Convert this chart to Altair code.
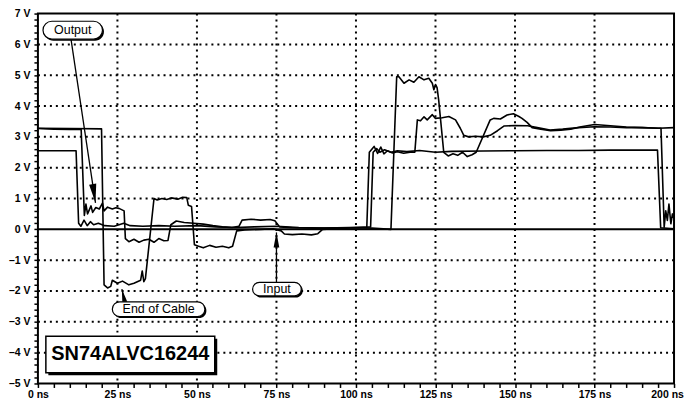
import altair as alt
import pandas as pd

# ---- traces (time in ns, voltage in V) ----
OUT_T = [0, 5, 10, 13.6, 14.6, 15.1, 15.6, 16.7, 17.2, 18.2, 19.3, 20.3, 20.8, 21.9, 23.4, 24.5, 25.5, 27.1,
         27.5, 28.6, 30.2, 31.8, 33.3, 34.9, 36.5, 38.0, 39.6, 40.9, 41.8, 43.5, 46, 49, 52, 55, 58, 61, 63.2,
         64.2, 67, 70, 73, 74.5, 76, 80, 88, 96, 103.4, 104.2, 105.7, 106.8, 107.8, 108.8, 109.9, 111.5, 113,
         115, 117, 118.5, 119.3, 120.3, 121.4, 122.4, 124.0, 125.0, 127.1, 129.2, 131.3, 132.8, 133.9, 135.4,
         137.5, 140, 142.2, 144.5, 146.5, 150, 154, 157, 161, 165, 170, 175, 180, 185, 190, 195.9, 196.9,
         197.4, 197.9, 198.4, 199.0, 199.5, 200]
OUT_V = [3.27, 3.25, 3.24, 3.24, 0.45, 0.82, 0.5, 0.76, 0.55, 0.71, 0.66, 0.85, 0.6, 0.72, 0.66, 0.7, 0.68, 0.6,
         -0.3, -0.4, -0.32, -0.42, -0.35, -0.32, -0.42, -0.3, -0.37, -0.36, 0.15, 0.27, 0.22, 0.2, 0.17, 0.12,
         0.08, 0.06, 0.1, 0.3, 0.33, 0.3, 0.32, 0.28, 0.08, 0.05, 0.04, 0.05, 0.06, 2.5, 2.69, 2.46, 2.67, 2.45,
         2.55, 2.48, 2.52, 2.47, 2.5, 2.5, 3.55, 3.52, 3.65, 3.55, 3.72, 3.6, 3.62, 3.66, 3.55, 3.28, 3.05, 3.0,
         3.02, 3.0, 3.05, 3.2, 3.35, 3.37, 3.36, 3.3, 3.22, 3.25, 3.3, 3.33, 3.32, 3.3, 3.3, 3.28, 0.07, 0.6,
         0.29, 0.82, 0.18, 0.5, 0.35]

END_T = [0, 10, 20.0, 20.8, 21.9, 22.9, 23.4, 25.0, 26.6, 28.6, 30.2, 32.3, 32.8, 33.3, 33.8, 36.5, 37.5, 39,
         40.5, 42, 44, 45.5, 46.8, 47.3, 48.3, 49.2, 50.5, 52, 54, 56, 58, 60, 61.2, 62.5, 65, 70, 74, 76.5,
         77.5, 80, 83, 86, 88, 89.5, 95, 100, 105, 111.0, 112.8, 113.5, 115.1, 116.7, 118.2, 119.8, 121.4,
         122.9, 124.0, 124.5, 125.0, 125.5, 126.0, 127.6, 129, 130.5, 132, 133.5, 135, 136.5, 137.8, 142.2,
         143.3, 145.4, 147.5, 149.5, 151.1, 152.2, 153.8, 155.4, 158.1, 161.2, 164.4, 167.5, 170.8, 175, 180,
         185, 190, 195, 200]
END_V = [3.28, 3.27, 3.26, -1.8, -1.9, -1.85, -1.65, -1.75, -1.68, -1.8, -1.75, -1.65, -1.35, -1.7, -1.6, 1.0,
         0.95, 1.0, 0.97, 1.02, 0.98, 1.04, 1.03, 0.78, 0.74, -0.5, -0.55, -0.6, -0.52, -0.58, -0.55, -0.6,
         -0.55, -0.05, -0.02, 0.0, 0.02, -0.05, -0.15, -0.17, -0.15, -0.18, -0.14, 0.0, 0.03, 0.05, 0.04, 0.0,
         4.95, 4.95, 4.74, 4.85, 4.77, 4.95, 4.85, 4.9, 4.74, 4.53, 4.7, 4.6, 4.2, 2.5, 2.38, 2.45, 2.4, 2.5,
         2.36, 2.42, 2.5, 3.55, 3.6, 3.58, 3.71, 3.75, 3.67, 3.6, 3.47, 3.3, 3.25, 3.2, 3.22, 3.25, 3.33, 3.4,
         3.36, 3.32, 3.3, 3.28, 3.3]

IN_T = [0, 12.0, 12.8, 13.5, 14.5, 15.5, 16.5, 17.5, 19, 21, 24, 27, 29, 33, 38, 43, 50, 56, 62, 68, 75, 82, 90,
        98, 104.6, 105.4, 106.5, 107.5, 109, 111, 113, 116, 120, 125, 130, 140, 150, 160, 170, 180, 190, 194.8,
        195.8, 200]
IN_V = [2.55, 2.55, 0.2, 0.1, 0.3, 0.12, 0.25, 0.15, 0.2, 0.12, 0.1, 0.2, 0.12, 0.1, 0.12, 0.1, 0.12, 0.08,
        0.06, 0.08, 0.1, 0.06, 0.04, 0.06, 0.08, 2.5, 2.62, 2.5, 2.58, 2.5, 2.55, 2.52, 2.56, 2.5, 2.53, 2.54,
        2.55, 2.56, 2.56, 2.57, 2.57, 2.57, 0.05, 0.02]

# ---- axes ----
X_TICKS = list(range(0, 201, 5))
Y_TICKS = [round(-5 + 0.2 * i, 1) for i in range(61)]
X_GRID = [25, 50, 75, 100, 125, 150, 175]
Y_GRID = [-4, -3, -2, -1, 1, 2, 3, 4, 5, 6]

# ---- annotations ----
PILL_TEXT = ["Output", "End of Cable", "Input"]
PILL_T0 = [1.6, 23.4, 67.5]
PILL_T1 = [20.3, 52.5, 82.8]
PILL_V0 = [6.17, -2.83, -2.16]
PILL_V1 = [6.75, -2.35, -1.72]

ARROW_ID = ["Output", "Output", "End", "End", "Input", "Input"]
ARROW_T = [10.4, 18.1, 27.3, 26.4, 75.0, 75.0]
ARROW_V = [6.17, 0.86, -2.35, -1.94, -1.72, -0.1]
HEAD_T = [18.1, 26.4, 75.0]
HEAD_V = [0.86, -1.94, -0.1]
HEAD_ANGLE = [171.5, 347.4, 0]
HEAD_SIZE = [361, 196, 225]

BOX_TEXT = ["SN74ALVC16244"]
BOX_T0, BOX_T1, BOX_V0, BOX_V1 = [2.5], [55.6], [-4.65], [-3.47]

FONT = "Liberation Sans"

rows = []
for name, ts, vs in [("Output", OUT_T, OUT_V), ("End of Cable", END_T, END_V), ("Input", IN_T, IN_V)]:
    assert len(ts) == len(vs), name
    for i, (t, v) in enumerate(zip(ts, vs)):
        rows.append({"series": name, "i": i, "t": t, "v": v})
traces = pd.DataFrame(rows)

xs = alt.Scale(domain=[0, 200], nice=False, zero=False)
ys = alt.Scale(domain=[-5, 7], nice=False, zero=False)

x_axis = alt.Axis(values=X_TICKS, labelExpr="datum.value % 25 == 0 ? datum.value + ' ns' : ''",
                  grid=False, title=None, domain=False, tickColor="black", tickWidth=1.5, tickSize=4,
                  labelFont=FONT, labelFontWeight="bold", labelFontSize=10.5, labelColor="black",
                  labelPadding=2, labelOverlap=False, labelBound=False, labelFlush=False,
                  labelOffset=alt.ExprRef(expr="datum.value == 200 ? -7 : 0"))
y_axis = alt.Axis(values=Y_TICKS,
                  labelExpr="abs(datum.value - round(datum.value)) < 0.01 ? ((datum.value < -0.5 ? '\u2013' + abs(round(datum.value)) : round(datum.value)) + ' V') : ''",
                  grid=False, title=None, domain=False, tickColor="black", tickWidth=1.5, tickSize=4,
                  labelFont=FONT, labelFontWeight="bold", labelFontSize=10.5, labelColor="black",
                  labelPadding=4, labelOverlap=False, labelBound=False, labelFlush=False)


def X(field):
    return alt.X(field, scale=xs, axis=x_axis, title=None)


def Y(field):
    return alt.Y(field, scale=ys, axis=y_axis, title=None)


lines = alt.Chart(traces).mark_line(color="black", strokeWidth=1.6, strokeJoin="round").encode(
    x=X("t:Q"), y=Y("v:Q"), detail="series:N", order="i:Q")

gx = alt.Chart(pd.DataFrame({"t": X_GRID})).mark_rule(color="black", strokeWidth=2, strokeDash=[2, 4]).encode(
    x=X("t:Q"))
gy = alt.Chart(pd.DataFrame({"v": Y_GRID})).mark_rule(color="black", strokeWidth=2, strokeDash=[2, 4]).encode(
    y=Y("v:Q"))
zero = alt.Chart(pd.DataFrame({"v": [0]})).mark_rule(color="black", strokeWidth=2).encode(y=Y("v:Q"))

arrows = alt.Chart(pd.DataFrame({"id": ARROW_ID, "t": ARROW_T, "v": ARROW_V})).mark_line(
    color="black", strokeWidth=1.3).encode(x=X("t:Q"), y=Y("v:Q"), detail="id:N")
heads = alt.Chart(pd.DataFrame({"t": HEAD_T, "v": HEAD_V, "a": HEAD_ANGLE, "s": HEAD_SIZE})).mark_point(
    shape="M0,0L0.38,2L-0.38,2Z", filled=True, color="black", opacity=1, strokeWidth=0).encode(
    x=X("t:Q"), y=Y("v:Q"),
    angle=alt.Angle("a:Q", scale=None), size=alt.Size("s:Q", scale=None))

pdf = pd.DataFrame({"label": PILL_TEXT, "t0": PILL_T0, "t1": PILL_T1, "v0": PILL_V0, "v1": PILL_V1})
pdf["tc"] = (pdf.t0 + pdf.t1) / 2
pdf["vc"] = (pdf.v0 + pdf.v1) / 2
pill_enc = dict(x=X("t0:Q"), x2="t1:Q", y=Y("v0:Q"), y2="v1:Q")
pill_shadow = alt.Chart(pdf).mark_rect(fill="black", cornerRadius=9, xOffset=1.5, x2Offset=1.5,
                                       yOffset=1.5, y2Offset=1.5).encode(**pill_enc)
pill = alt.Chart(pdf).mark_rect(fill="white", stroke="black", strokeWidth=1.2, cornerRadius=9).encode(**pill_enc)
pill_text = alt.Chart(pdf).mark_text(font=FONT, fontSize=12.5, color="black", baseline="middle",
                                     align="center").encode(x=X("tc:Q"), y=Y("vc:Q"), text="label:N")

bdf = pd.DataFrame({"label": BOX_TEXT, "t0": BOX_T0, "t1": BOX_T1, "v0": BOX_V0, "v1": BOX_V1})
bdf["tc"] = (bdf.t0 + bdf.t1) / 2
bdf["vc"] = (bdf.v0 + bdf.v1) / 2
box_enc = dict(x=X("t0:Q"), x2="t1:Q", y=Y("v0:Q"), y2="v1:Q")
box_shadow = alt.Chart(bdf).mark_rect(fill="black", xOffset=2.5, x2Offset=2.5, yOffset=2.5,
                                      y2Offset=2.5).encode(**box_enc)
box = alt.Chart(bdf).mark_rect(fill="white", stroke="black", strokeWidth=1.5).encode(**box_enc)
box_text = alt.Chart(bdf).mark_text(font=FONT, fontSize=20, fontWeight="bold", color="black",
                                    baseline="middle", align="center").encode(
    x=X("tc:Q"), y=Y("vc:Q"), text="label:N")

chart = alt.layer(
    gx, gy, zero, lines, arrows, heads, pill_shadow, pill, pill_text, box_shadow, box, box_text
).properties(
    width=638, height=371,
    padding={"left": 0, "top": 0, "right": 0, "bottom": 0},
    background="white",
).configure_view(stroke="black", strokeWidth=2)

chart.save("out.html", embed_options={"renderer": "svg", "actions": False})
